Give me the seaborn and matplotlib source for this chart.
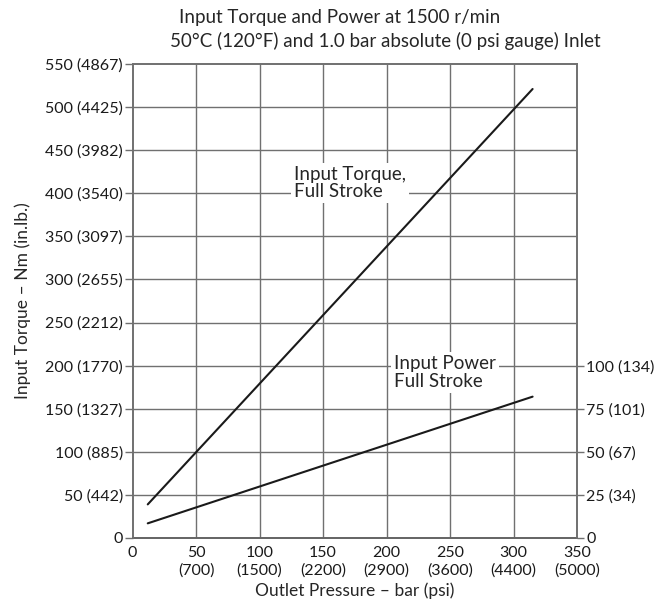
import numpy as np
import pandas as pd
import seaborn as sns
import matplotlib.pyplot as plt

sns.set_style("white")
plt.rcParams['font.family'] = ['Lato', 'DejaVu Sans']

# dados
pressao_bar = [12, 315]
torque_nm = [39, 521]
potencia_kw = [8.5, 82]

sp = "\u2005"
x_ticks = [0, 50, 100, 150, 200, 250, 300, 350]
x_labels = ["0", "50\n(700)", "100\n(1500)", "150\n(2200)", "200\n(2900)",
            "250\n(3600)", "300\n(4400)", "350\n(5000)"]
y_ticks = [0, 50, 100, 150, 200, 250, 300, 350, 400, 450, 500, 550]
y_labels = ["0", "50" + sp + "(442)", "100" + sp + "(885)", "150" + sp + "(1327)",
            "200" + sp + "(1770)", "250" + sp + "(2212)", "300" + sp + "(2655)",
            "350" + sp + "(3097)", "400" + sp + "(3540)", "450" + sp + "(3982)",
            "500" + sp + "(4425)", "550" + sp + "(4867)"]
y2_ticks = [0, 25, 50, 75, 100]
y2_labels = ["0", "25" + sp + "(34)", "50" + sp + "(67)", "75" + sp + "(101)",
             "100" + sp + "(134)"]

df_t = pd.DataFrame({"p": pressao_bar, "v": torque_nm})
df_p = pd.DataFrame({"p": pressao_bar, "v": potencia_kw})

fs = 11.5
fig = plt.figure(figsize=(6.55, 6.09), dpi=100)
ax = fig.add_axes([0.2023, 0.1166, 0.6787, 0.7783])
ax2 = ax.twinx()

grid_c = "#707070"
for xv in x_ticks[1:-1]:
    ax.axvline(xv, color=grid_c, lw=1, zorder=0)
for yv in y_ticks[1:-1]:
    ax.axhline(yv, color=grid_c, lw=1, zorder=0)

sns.lineplot(data=df_t, x="p", y="v", ax=ax, color="#1a1a1a", lw=1.5, zorder=3)
sns.lineplot(data=df_p, x="p", y="v", ax=ax2, color="#1a1a1a", lw=1.5, zorder=3)

ax.set_xlim(0, 350)
ax.set_ylim(0, 550)
ax2.set_ylim(0, 275)

ax.set_xticks(x_ticks)
ax.set_xticklabels(x_labels, fontsize=fs, linespacing=1.3)
ax.set_yticks(y_ticks)
ax.set_yticklabels(y_labels, fontsize=fs)
ax2.set_yticks(y2_ticks)
ax2.set_yticklabels(y2_labels, fontsize=fs)

ax.tick_params(axis="x", length=0, pad=6, colors="#1a1a1a")
ax.tick_params(axis="y", length=6, width=1, pad=1, colors="#1a1a1a")
ax.tick_params(axis="y", color=grid_c)
ax2.tick_params(axis="y", length=5, width=1, pad=1.5, colors="#1a1a1a")
ax2.tick_params(axis="y", color=grid_c)

for a in (ax, ax2):
    for s in a.spines.values():
        s.set_color(grid_c)
        s.set_linewidth(1.2)
ax.spines["bottom"].set_color("#1a1a1a")

ax.set_xlabel("Outlet Pressure – bar (psi)", fontsize=12.5, labelpad=3)
ax.set_ylabel("Input Torque – Nm (in.lb.)", fontsize=12.5, labelpad=10)
ax2.set_ylabel("")
ax2.set_xlabel("")

box = dict(facecolor="white", edgecolor="none", pad=2)
ax.text(127, 412, "Input Torque,\nFull Stroke", fontsize=13.5, va="center", ha="left",
        linespacing=1.05, bbox=box, zorder=4)
ax.text(206, 192, "Input Power\nFull Stroke", fontsize=13.5, va="center", ha="left",
        linespacing=1.05, bbox=box, zorder=4)

fig.text(0.519, 0.972, "Input Torque and Power at 1500 r/min", fontsize=13.5,
         ha="center", va="center")
fig.text(0.588, 0.932, "50°C (120°F) and 1.0 bar absolute (0 psi gauge) Inlet",
         fontsize=13.5, ha="center", va="center")

fig.savefig("out.png", dpi=100)
